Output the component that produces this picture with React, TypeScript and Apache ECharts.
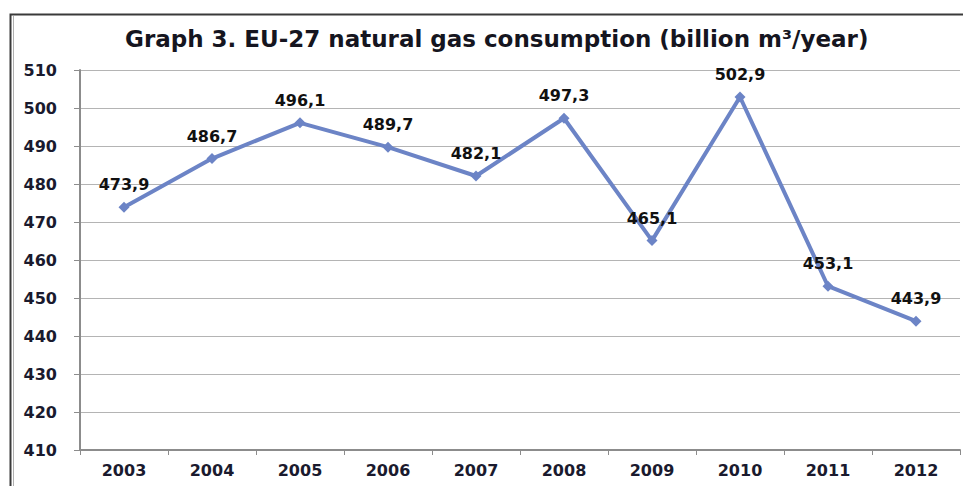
import React, { useEffect, useRef } from "react";
import * as echarts from "echarts";

const years = ["2003", "2004", "2005", "2006", "2007", "2008", "2009", "2010", "2011", "2012"];
const consumption = [473.9, 486.7, 496.1, 489.7, 482.1, 497.3, 465.1, 502.9, 453.1, 443.9];
const titleText = "Graph 3. EU-27 natural gas consumption (billion m³/year)";

export default function App() {
  const ref = useRef<HTMLDivElement>(null);
  useEffect(() => {
    document.body.style.margin = "0";
    const chart = echarts.init(ref.current!, null, { renderer: "svg" });
    const font = "'DejaVu Sans', sans-serif";
    chart.setOption({
      animation: false,
      backgroundColor: "#ffffff",
      title: {
        text: titleText,
        left: 120,
        top: 22,
        textStyle: { fontFamily: font, fontSize: 23, fontWeight: "bold", color: "#151520" },
      },
      graphic: [
        {
          type: "rect",
          shape: { x: 10.5, y: 14.5, width: 980, height: 500 },
          style: { fill: "none", stroke: "#3a3a3a", lineWidth: 2 },
          silent: true,
        },
        {
          type: "line",
          shape: { x1: 13.5, y1: 16, x2: 13.5, y2: 486 },
          style: { stroke: "#b0b0b0", lineWidth: 1 },
          silent: true,
        },
      ],
      grid: { left: 80, right: 3, top: 70, bottom: 36, containLabel: false },
      xAxis: {
        type: "category",
        data: years,
        boundaryGap: true,
        axisLine: { lineStyle: { color: "#8c8c8c", width: 2 } },
        axisTick: { show: true, alignWithLabel: false, length: 5, lineStyle: { color: "#8c8c8c", width: 1 } },
        axisLabel: { fontFamily: font, fontSize: 16, fontWeight: "bold", color: "#1a1a2e", margin: 12 },
        splitLine: { show: false },
      },
      yAxis: {
        type: "value",
        min: 410,
        max: 510,
        interval: 10,
        axisLine: { show: true, lineStyle: { color: "#8c8c8c", width: 2 } },
        axisTick: { show: true, length: 6, lineStyle: { color: "#8c8c8c", width: 1 } },
        axisLabel: { fontFamily: font, fontSize: 16, fontWeight: "bold", color: "#1a1a2e", margin: 23 },
        splitLine: { show: true, lineStyle: { color: "#b4b4b4", width: 1 } },
      },
      series: [
        {
          type: "line",
          data: consumption,
          symbol: "diamond",
          symbolSize: 11,
          lineStyle: { color: "#6c84c6", width: 4 },
          itemStyle: { color: "#6c84c6" },
          label: {
            show: true,
            position: "top",
            distance: 9,
            fontFamily: font,
            fontSize: 16,
            fontWeight: "bold",
            color: "#111111",
            formatter: (p: any) => String(p.value.toFixed(1)).replace(".", ","),
          },
        },
      ],
    });
    return () => chart.dispose();
  }, []);
  return <div ref={ref} style={{ width: 963, height: 486 }} />;
}
